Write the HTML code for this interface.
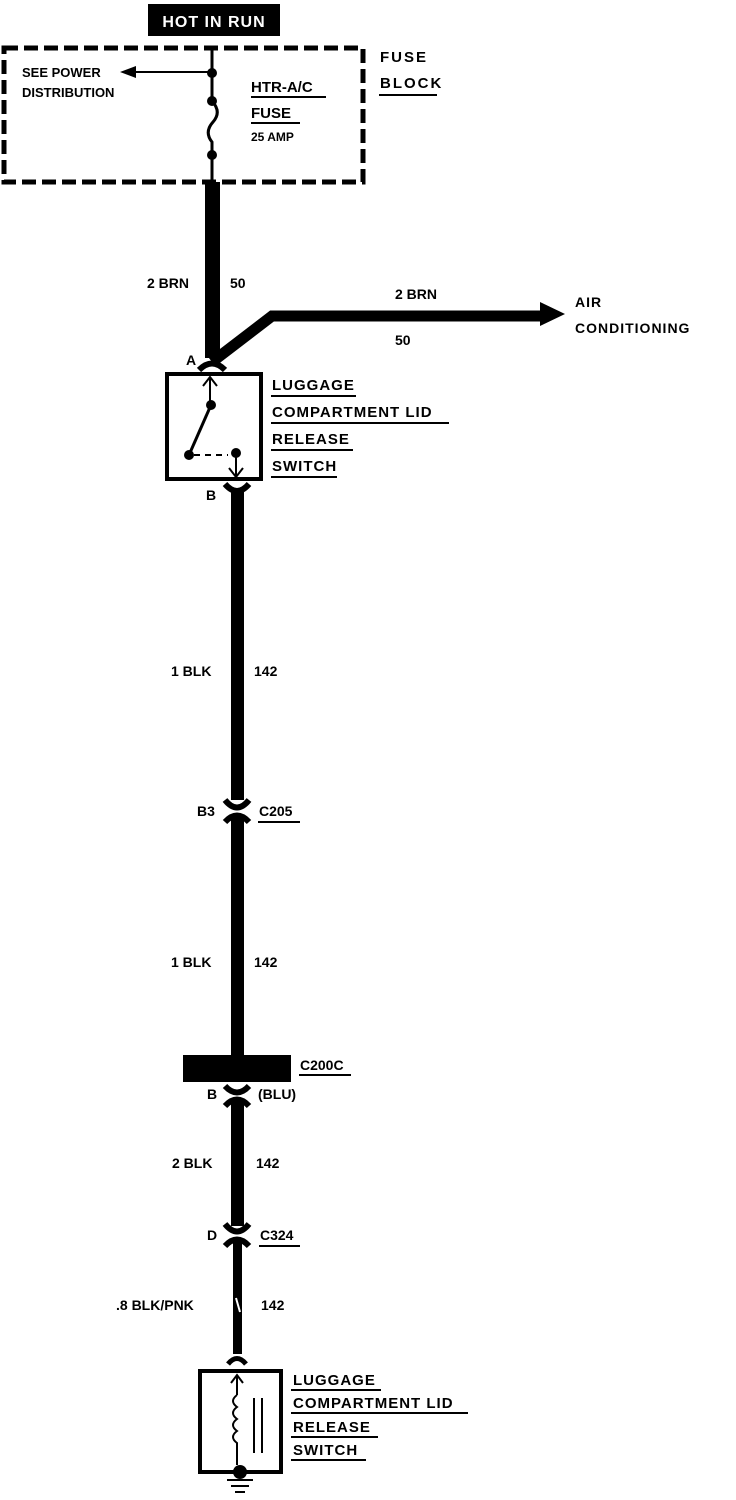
<!DOCTYPE html>
<html><head><style>
body{margin:0;background:#fff}
svg{display:block}
text{font-family:"Liberation Sans",sans-serif;font-weight:bold;fill:#000}
</style></head><body>
<svg width="736" height="1500" viewBox="0 0 736 1500">
<rect x="148" y="4" width="132" height="32" fill="#000"/>
<text x="214" y="27" font-size="16" text-anchor="middle" style="fill:#fff" letter-spacing="1">HOT IN RUN</text>
<rect x="4" y="48" width="359" height="134" fill="none" stroke="#000" stroke-width="5" stroke-dasharray="14,6"/>
<text x="22" y="77" font-size="13">SEE POWER</text>
<text x="22" y="97" font-size="13">DISTRIBUTION</text>
<path d="M212 48V100" stroke="#000" stroke-width="3"/>
<path d="M212 72H130" stroke="#000" stroke-width="2"/>
<path d="M120 72L136 66V78Z"/>
<circle cx="212" cy="73" r="5"/><circle cx="212" cy="101" r="5"/><circle cx="212" cy="155" r="5"/>
<path d="M212 101 Q222 112 213 122 Q204 132 212 142 L212 185" fill="none" stroke="#000" stroke-width="3"/>
<text x="251" y="92" font-size="15">HTR-A/C</text><path d="M251 97H326" stroke="#000" stroke-width="2"/>
<text x="251" y="118" font-size="15">FUSE</text><path d="M251 123H300" stroke="#000" stroke-width="2"/>
<text x="251" y="141" font-size="12">25 AMP</text>
<text x="380" y="62" font-size="15" letter-spacing="2">FUSE</text>
<text x="380" y="88" font-size="15" letter-spacing="2">BLOCK</text><path d="M379 95H437" stroke="#000" stroke-width="2"/>
<rect x="205" y="182" width="15" height="176"/>
<path d="M212 362L272 316H545" fill="none" stroke="#000" stroke-width="11"/>
<path d="M540 302L565 314L540 326Z"/>
<text x="147" y="288" font-size="14">2 BRN</text><text x="230" y="288" font-size="14">50</text>
<text x="395" y="299" font-size="14">2 BRN</text><text x="395" y="345" font-size="14">50</text>
<text x="575" y="307" font-size="14" letter-spacing="1">AIR</text>
<text x="575" y="333" font-size="14" letter-spacing="1">CONDITIONING</text>
<text x="186" y="365" font-size="14">A</text>
<path d="M199 370 Q212 357 225 370" fill="none" stroke="#000" stroke-width="6"/>
<rect x="167" y="374" width="94" height="105" fill="none" stroke="#000" stroke-width="4"/>
<path d="M210 377V402M203 386L210 377L217 386" fill="none" stroke="#000" stroke-width="2"/>
<circle cx="211" cy="405" r="5"/><path d="M211 405L189 455" stroke="#000" stroke-width="3"/>
<circle cx="189" cy="455" r="5"/><path d="M194 455H228" stroke="#000" stroke-width="2" stroke-dasharray="6,5"/>
<circle cx="236" cy="453" r="5"/><path d="M236 453V478M229 468L236 477L243 468" fill="none" stroke="#000" stroke-width="2"/>
<text x="272" y="390" font-size="15" letter-spacing="1">LUGGAGE</text><path d="M271 396H356" stroke="#000" stroke-width="2"/>
<text x="272" y="417" font-size="15" letter-spacing="1">COMPARTMENT LID</text><path d="M271 423H449" stroke="#000" stroke-width="2"/>
<text x="272" y="444" font-size="15" letter-spacing="1">RELEASE</text><path d="M271 450H353" stroke="#000" stroke-width="2"/>
<text x="272" y="471" font-size="15" letter-spacing="1">SWITCH</text><path d="M271 477H337" stroke="#000" stroke-width="2"/>
<text x="206" y="500" font-size="14">B</text>
<path d="M225 484 Q237 498 249 484" fill="none" stroke="#000" stroke-width="6"/>
<rect x="231" y="490" width="13" height="310"/>
<text x="171" y="676" font-size="14">1 BLK</text><text x="254" y="676" font-size="14">142</text>
<path d="M225 800 Q237 815 249 800" fill="none" stroke="#000" stroke-width="6"/>
<path d="M225 822 Q237 809 249 822" fill="none" stroke="#000" stroke-width="6"/>
<text x="197" y="816" font-size="14">B3</text>
<text x="259" y="816" font-size="14">C205</text><path d="M258 822H300" stroke="#000" stroke-width="2"/>
<rect x="231" y="818" width="13" height="240"/>
<text x="171" y="967" font-size="14">1 BLK</text><text x="254" y="967" font-size="14">142</text>
<rect x="183" y="1055" width="108" height="27"/>
<text x="300" y="1070" font-size="14">C200C</text><path d="M299 1075H351" stroke="#000" stroke-width="2"/>
<text x="207" y="1099" font-size="14">B</text><text x="258" y="1099" font-size="14">(BLU)</text>
<path d="M225 1086 Q237 1099 249 1086" fill="none" stroke="#000" stroke-width="6"/>
<path d="M225 1106 Q237 1093 249 1106" fill="none" stroke="#000" stroke-width="6"/>
<rect x="231" y="1102" width="13" height="124"/>
<text x="172" y="1168" font-size="14">2 BLK</text><text x="256" y="1168" font-size="14">142</text>
<path d="M225 1224 Q237 1239 249 1224" fill="none" stroke="#000" stroke-width="6"/>
<path d="M225 1246 Q237 1233 249 1246" fill="none" stroke="#000" stroke-width="6"/>
<text x="207" y="1240" font-size="14">D</text>
<text x="260" y="1240" font-size="14">C324</text><path d="M259 1246H300" stroke="#000" stroke-width="2"/>
<rect x="233" y="1242" width="9" height="112"/>
<path d="M236 1298L240 1312" stroke="#fff" stroke-width="2"/>
<text x="116" y="1310" font-size="14">.8 BLK/PNK</text><text x="261" y="1310" font-size="14">142</text>
<path d="M228 1364 Q237 1353 246 1364" fill="none" stroke="#000" stroke-width="5"/>
<rect x="200" y="1371" width="81" height="101" fill="none" stroke="#000" stroke-width="4"/>
<path d="M237 1375V1395M231 1383L237 1375L243 1383" fill="none" stroke="#000" stroke-width="2"/>
<path d="M237 1395 q-8 6 0 12 q-8 6 0 12 q-8 6 0 12 q-8 6 0 12 V1465" fill="none" stroke="#000" stroke-width="2"/>
<path d="M254 1398V1453M262 1398V1453" stroke="#000" stroke-width="2"/>
<circle cx="240" cy="1472" r="7"/>
<path d="M227 1480H253M231 1486H249M235 1492H245" stroke="#000" stroke-width="2"/>
<text x="293" y="1385" font-size="15" letter-spacing="1">LUGGAGE</text><path d="M291 1390H381" stroke="#000" stroke-width="2"/>
<text x="293" y="1408" font-size="15" letter-spacing="1">COMPARTMENT LID</text><path d="M291 1413H468" stroke="#000" stroke-width="2"/>
<text x="293" y="1432" font-size="15" letter-spacing="1">RELEASE</text><path d="M291 1437H378" stroke="#000" stroke-width="2"/>
<text x="293" y="1455" font-size="15" letter-spacing="1">SWITCH</text><path d="M291 1460H366" stroke="#000" stroke-width="2"/>
</svg>
</body></html>
